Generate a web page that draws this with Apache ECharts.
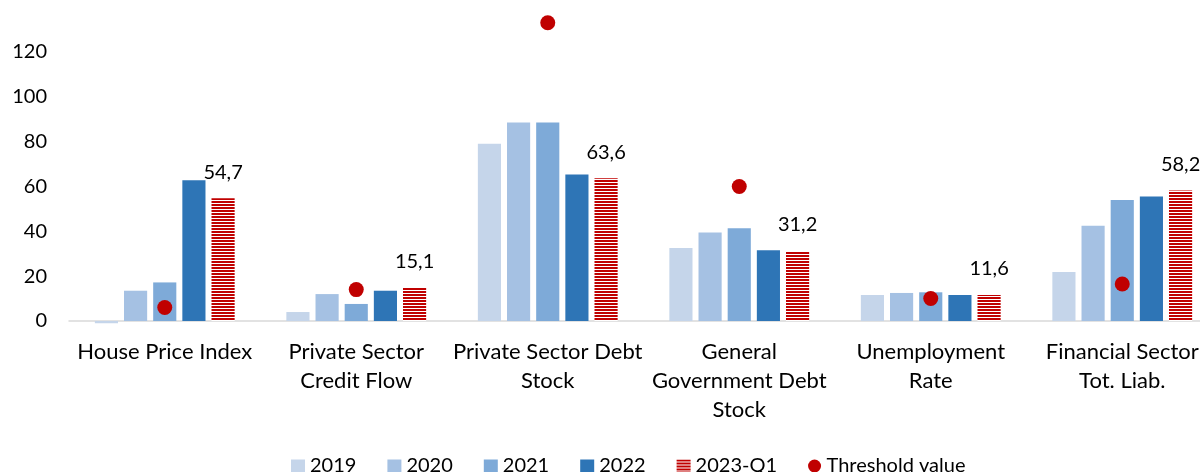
<!DOCTYPE html>
<html>
<head>
<meta charset="utf-8">
<script src="https://cdn.jsdelivr.net/npm/echarts@6/dist/echarts.min.js"></script>
<style>
  html, body { margin: 0; padding: 0; background: #fff; }
  #main { width: 1200px; height: 472px; }
</style>
</head>
<body>
<div id="main"></div>
<script>
// categories and values
var categories = [
    "House Price Index",
    "Private Sector\nCredit Flow",
    "Private Sector Debt\nStock",
    "General\nGovernment Debt\nStock",
    "Unemployment\nRate",
    "Financial Sector\nTot. Liab."
];
var v2019 = [-1, 4, 79, 32.5, 11.6, 21.8];
var v2020 = [13.5, 12, 88.5, 39.5, 12.5, 42.5];
var v2021 = [17.2, 7.6, 88.5, 41.4, 12.8, 54];
var v2022 = [62.8, 13.5, 65.3, 31.5, 11.6, 55.5];
var v2023q1 = [54.7, 15.1, 63.6, 31.2, 11.6, 58.2];
var threshold = [6, 14, 133, 60, 10, 16.5];
var yTicks = [0, 20, 40, 60, 80, 100, 120];

// red horizontal stripes for 2023-Q1
var stripe = document.createElement("canvas");
stripe.width = 4;
stripe.height = 3;
var ctx = stripe.getContext("2d");
ctx.fillStyle = "#ffffff";
ctx.fillRect(0, 0, 4, 3);
ctx.fillStyle = "#c00000";
ctx.fillRect(0, 0, 4, 2);

var font = "Lato, 'Liberation Sans', sans-serif";

function barSeries(name, data, color) {
    return {
        name: name,
        type: "bar",
        data: data,
        clip: false,
        barGap: "26%",
        barCategoryGap: "27%",
        itemStyle: { color: color }
    };
}

var myChart = echarts.init(document.getElementById("main"));
var option = {
    animation: false,
    textStyle: { fontFamily: font },
    grid: { left: 69, right: -18, top: 7, bottom: 151, outerBoundsMode: "none", containLabel: false },
    legend: {
        left: 286,
        top: 451,
        itemWidth: 14,
        itemHeight: 13,
        itemGap: 31,
        textStyle: { fontSize: 20, color: "#000", fontFamily: font },
        data: [
            { name: "2019", icon: "rect" },
            { name: "2020", icon: "rect" },
            { name: "2021", icon: "rect" },
            { name: "2022", icon: "rect" },
            { name: "2023-Q1", icon: "rect" },
            { name: "Threshold value", icon: "circle", itemStyle: { color: "#c00000", opacity: 1 } }
        ]
    },
    xAxis: {
        type: "category",
        data: categories,
        axisTick: { show: false },
        axisLine: { lineStyle: { color: "#d9d9d9", width: 1.5 } },
        axisLabel: {
            interval: 0,
            margin: 16,
            fontSize: 22,
            lineHeight: 29,
            color: "#000",
            fontFamily: font
        }
    },
    yAxis: {
        type: "value",
        min: 0,
        max: 140,
        interval: 20,
        splitLine: { show: false },
        axisLine: { show: false },
        axisTick: { show: false },
        axisLabel: {
            margin: 22,
            fontSize: 20,
            color: "#000",
            fontFamily: font,
            showMaxLabel: false,
            formatter: function (v) {
                return yTicks.indexOf(v) >= 0 ? String(v) : "";
            }
        }
    },
    series: [
        barSeries("2019", v2019, "#c5d5ea"),
        barSeries("2020", v2020, "#a5c1e3"),
        barSeries("2021", v2021, "#7eaad8"),
        barSeries("2022", v2022, "#2e75b6"),
        {
            name: "2023-Q1",
            type: "bar",
            data: v2023q1,
            barGap: "26%",
            barCategoryGap: "27%",
            itemStyle: { color: { image: stripe, repeat: "repeat" } },
            label: {
                show: true,
                position: "top",
                distance: 16,
                fontSize: 20,
                color: "#000",
                fontFamily: font,
                formatter: function (p) {
                    return p.value.toFixed(1).replace(".", ",");
                }
            }
        },
        {
            name: "Threshold value",
            type: "scatter",
            data: threshold,
            symbol: "circle",
            symbolSize: 15,
            z: 5,
            itemStyle: { color: "#c00000", opacity: 1 }
        }
    ]
};
myChart.setOption(option);
</script>
</body>
</html>
